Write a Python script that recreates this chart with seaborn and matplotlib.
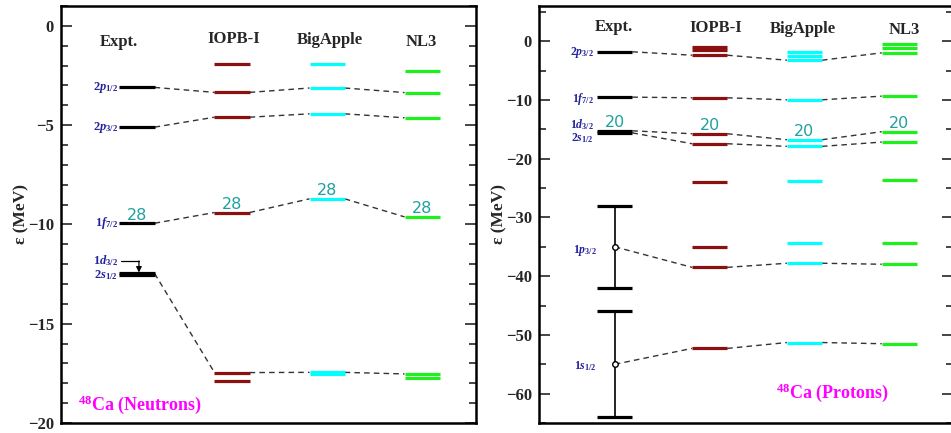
import matplotlib
matplotlib.use("Agg")
import numpy as np
import pandas as pd
import matplotlib.pyplot as plt
from matplotlib.ticker import MultipleLocator
import seaborn as sns

# ---------------- data ----------------
models = ["Expt.", "IOPB-I", "BigApple", "NL3"]

# Neutron single-particle levels (MeV)
n_expt = [-3.10, -5.10, -9.94, -12.47, -12.56]
n_iopb = [-1.91, -3.35, -4.60, -9.40, -17.46, -17.91]
n_big = [-1.91, -3.13, -4.43, -8.71, -17.45, -17.55]
n_nl3 = [-2.26, -3.36, -4.63, -9.62, -17.53, -17.71]
n_expt_err = [0, 0, 0, 0, 0]
n_state_labels = ["$2p_{1/2}$", "$2p_{3/2}$", "$1f_{7/2}$", "$2s_{1/2}$"]
n_label_idx = [0, 1, 2, 4]
# links: index of the level in each model (Expt, IOPB-I, BigApple, NL3)
n_links = [[0, 1, 1, 1], [1, 2, 2, 2], [2, 3, 3, 3], [3, 4, 4, 4]]
n_magic = "28"
n_magic_idx = [2, 3, 3, 3]

# Proton single-particle levels (MeV)
p_expt = [-1.80, -9.52, -15.25, -15.60, -35.0, -55.0]
p_expt_err = [0, 0, 0, 0, 7.0, 9.0]
p_iopb = [-0.95, -1.53, -2.38, -9.63, -15.75, -17.45, -23.98, -35.0, -38.5, -52.3]
p_big = [-1.80, -2.55, -3.23, -9.97, -16.77, -17.90, -23.86, -34.4, -37.8, -51.3]
p_nl3 = [-0.50, -1.19, -1.97, -9.35, -15.40, -17.17, -23.57, -34.35, -37.97, -51.5]
p_state_labels = ["$2p_{3/2}$", "$1f_{7/2}$", "$1d_{3/2}$", "$2s_{1/2}$", "$1p_{3/2}$", "$1s_{1/2}$"]
p_links = [[0, 2, 2, 2], [1, 3, 3, 3], [2, 4, 4, 4], [3, 5, 5, 5], [4, 8, 8, 8], [5, 9, 9, 9]]
p_magic = "20"
p_magic_idx = [2, 4, 4, 4]

# ---------------- style ----------------
sns.set_theme(style="ticks")
plt.rcParams["font.family"] = ["Liberation Serif", "DejaVu Serif"]
plt.rcParams["font.weight"] = "bold"
plt.rcParams["mathtext.fontset"] = "custom"
plt.rcParams["mathtext.rm"] = "Liberation Serif:bold"
plt.rcParams["mathtext.bf"] = "Liberation Serif:bold"
plt.rcParams["mathtext.it"] = "Liberation Serif:italic:bold"

colors = ["black", "#8b1010", "#00ffff", "#1ef01e"]
HW = 0.185
LEVEL_LW = 2.3
LABEL_BLUE = "#22229a"
MAGIC_COL = "#20a0a0"
MAGENTA = "#ff00ff"

fig = plt.figure(figsize=(9.51, 4.33), dpi=100)
axL = fig.add_axes([61 / 951, 10 / 433, 415 / 951, 417 / 433])
axR = fig.add_axes([539 / 951, 10 / 433, 414 / 951, 417 / 433])


def draw_panel(ax, levels, expt_err, links, magic, magic_idx):
    # level lines
    for i, lev in enumerate(levels):
        for j, v in enumerate(lev):
            if i == 0 and expt_err[j] > 0:
                e = expt_err[j]
                ax.vlines(i, v - e, v + e, color="black", lw=1.2, zorder=3)
                ax.hlines([v - e, v + e], i - HW, i + HW, color="black", lw=LEVEL_LW, zorder=3)
                ax.plot([i], [v], marker="o", ms=4, mfc="white", mec="black", mew=1.0, zorder=4)
            else:
                ax.hlines(v, i - HW, i + HW, color=colors[i], lw=LEVEL_LW, zorder=3)
    # dashed connectors
    rows = []
    for k, link in enumerate(links):
        for i in range(len(link) - 1):
            y0 = levels[i][link[i]]
            y1 = levels[i + 1][link[i + 1]]
            x0 = i if (i == 0 and expt_err[link[0]] > 0) else i + HW
            x1 = i + 1 - HW
            seg = f"{k}-{i}"
            rows.append({"x": x0, "y": y0, "seg": seg})
            rows.append({"x": x1, "y": y1, "seg": seg})
    df = pd.DataFrame(rows)
    sns.lineplot(data=df, x="x", y="y", units="seg", estimator=None, sort=False,
                 color="#333333", lw=1.0, ax=ax, zorder=2)
    for line in ax.lines[-len(df["seg"].unique()):]:
        line.set_dashes((4, 3))
    # magic numbers
    for i, idx in enumerate(magic_idx):
        ax.annotate(magic, (i, levels[i][idx]), xytext=(0, 2.5), textcoords="offset points",
                    ha="center", va="baseline", fontsize=11.5, color=MAGIC_COL,
                    family="DejaVu Sans", fontweight="normal", zorder=5)


def style_axes(ax, ylim, major, minor):
    ax.set_xlim(-0.8, 3.567)
    ax.set_ylim(*ylim)
    ax.set_xticks([])
    ax.set_xlabel("")
    ax.yaxis.set_major_locator(MultipleLocator(major))
    ax.yaxis.set_minor_locator(MultipleLocator(minor))
    ax.tick_params(axis="y", which="both", direction="in", left=True, right=True,
                   labelsize=12, pad=5, width=1.2)
    ax.tick_params(axis="y", which="major", length=8)
    ax.tick_params(axis="y", which="minor", length=5)
    for lab in ax.get_yticklabels():
        lab.set_fontweight("bold")
    for s in ax.spines.values():
        s.set_linewidth(1.8)
        s.set_color("black")
    ax.set_ylabel("ε (MeV)", fontsize=12.5, fontweight="bold", labelpad=-1)


# ---------------- Neutrons ----------------
n_levels = [n_expt, n_iopb, n_big, n_nl3]
draw_panel(axL, n_levels, n_expt_err, n_links, n_magic, n_magic_idx)
style_axes(axL, (-20, 1), 5, 1)
for lab, idx in zip(n_state_labels, n_label_idx):
    axL.text(-0.2, n_expt[idx], lab, ha="right", va="center", fontsize=9, color=LABEL_BLUE)
# 1d3/2 label with arrow
axL.text(-0.2, -11.84, "$1d_{3/2}$", ha="right", va="center", fontsize=9, color=LABEL_BLUE)
axL.plot([-0.17, 0.02], [-11.84, -11.84], color="black", lw=0.9)
axL.annotate("", xy=(0.02, n_expt[3] + 0.05), xytext=(0.02, -11.84),
             arrowprops=dict(arrowstyle="-|>", color="black", lw=0.9, mutation_scale=8,
                             shrinkA=0, shrinkB=0))
n_head_x = [-0.19, 1.02, 2.03, 2.99]
n_head_y = [-0.8, -0.65, -0.7, -0.8]
for m, hx, hy in zip(models, n_head_x, n_head_y):
    axL.text(hx, hy, m, ha="center", va="center", fontsize=12, fontweight="bold")
axL.text(-0.62, -19.1, "$^{48}$Ca (Neutrons)", ha="left", va="center", fontsize=13,
         color=MAGENTA, fontweight="bold")

# ---------------- Protons ----------------
p_levels = [p_expt, p_iopb, p_big, p_nl3]
draw_panel(axR, p_levels, p_expt_err, p_links, p_magic, p_magic_idx)
style_axes(axR, (-65, 6), 10, 5)
p_label_x = [-0.22, -0.22, -0.22, -0.22, -0.19, -0.19]
p_label_y = [-2.0, -9.9, -14.2, -16.5, -35.7, -55.3]
for lab, lx, ly in zip(p_state_labels, p_label_x, p_label_y):
    axR.text(lx, ly, lab, ha="right", va="center", fontsize=8.5, color=LABEL_BLUE)
p_head_x = [-0.01, 1.06, 1.98, 3.05]
p_head_y = [2.4, 2.3, 2.1, 1.9]
for m, hx, hy in zip(models, p_head_x, p_head_y):
    axR.text(hx, hy, m, ha="center", va="center", fontsize=12, fontweight="bold")
axR.text(1.695, -59.8, "$^{48}$Ca (Protons)", ha="left", va="center", fontsize=13,
         color=MAGENTA, fontweight="bold")

fig.savefig("out.png", dpi=100)
